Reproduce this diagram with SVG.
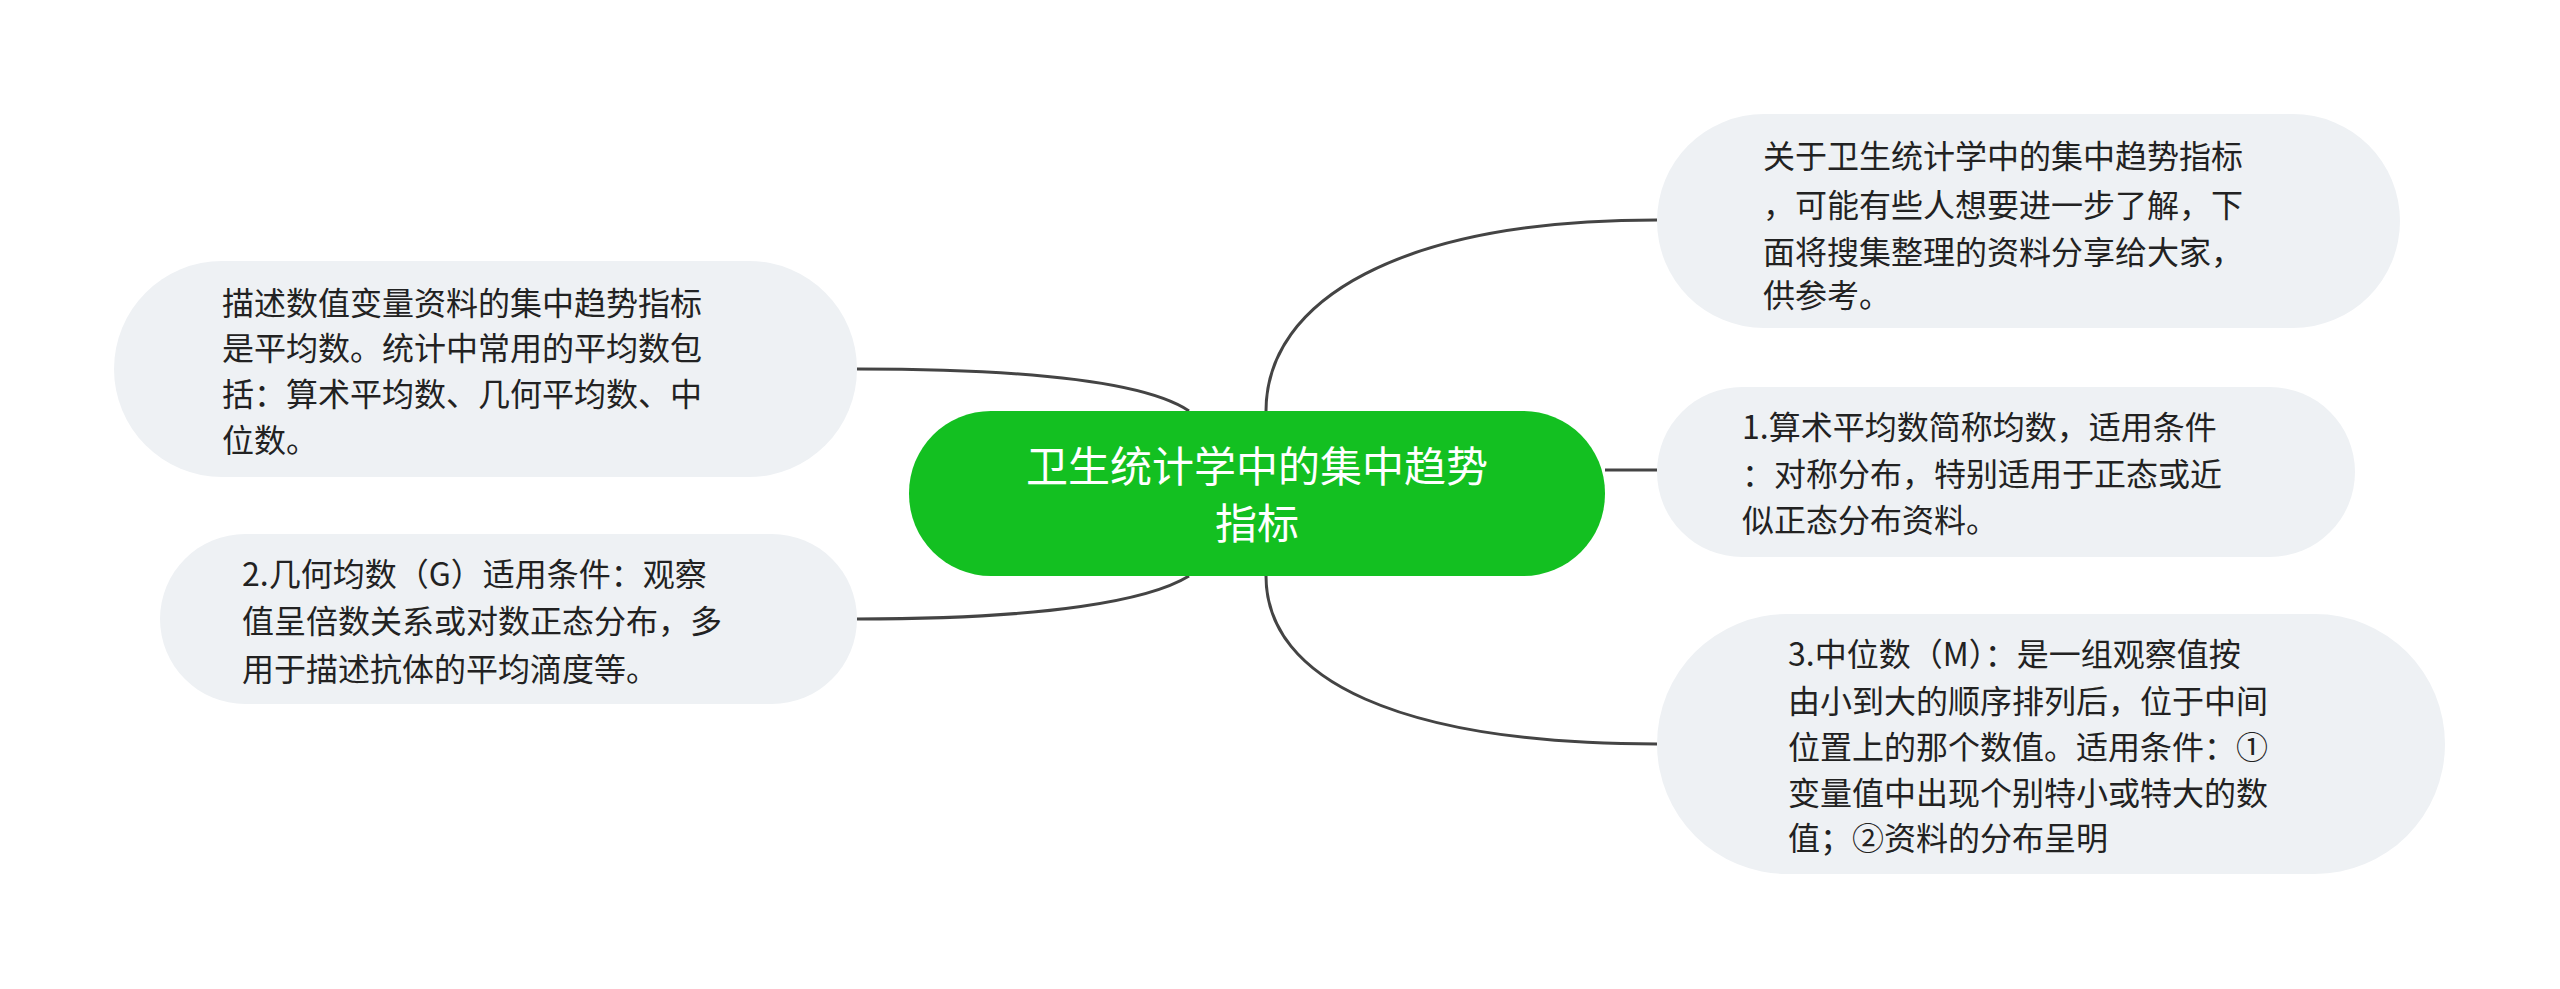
<svg xmlns="http://www.w3.org/2000/svg" width="2560" height="989" viewBox="0 0 2560 989">
<style>
.n{fill:#eef1f4}
.t{font-family:"Noto Sans CJK SC","Noto Sans",sans-serif;font-size:32px;fill:#222}
.c{font-family:"Noto Sans CJK SC","Noto Sans",sans-serif;font-size:42px;fill:#fff}
.l{fill:none;stroke:#444;stroke-width:3}
</style>
<rect width="2560" height="989" fill="#fff"/>
<g id="connectors">
<path class="l" d="M1266 411 C1266 300 1400 220 1657 220"/>
<path class="l" d="M1605 470 L1657 470"/>
<path class="l" d="M1266 576 C1266 680 1400 744 1657 744"/>
<path class="l" d="M857 369 C1050 369 1150 385 1189 411"/>
<path class="l" d="M857 619 C1050 619 1150 600 1189 576"/>
</g>
<g id="center">
<rect x="909" y="411" width="696" height="165" rx="82" fill="#13c021"/>
<text class="c" x="1257" y="482" text-anchor="middle">卫生统计学中的集中趋势</text>
<text class="c" x="1257" y="539" text-anchor="middle">指标</text>
</g>
<g id="r1">
<rect class="n" x="1657" y="114" width="743" height="214" rx="107"/>
<text class="t"><tspan x="1763" y="168">关于卫生统计学中的集中趋势指标</tspan><tspan x="1763" y="217">，可能有些人想要进一步了解，下</tspan><tspan x="1763" y="264">面将搜集整理的资料分享给大家，</tspan><tspan x="1763" y="307">供参考。</tspan></text>
</g>
<g id="r2">
<rect class="n" x="1657" y="387" width="698" height="170" rx="85"/>
<text class="t"><tspan x="1742" y="439">1.算术平均数简称均数，适用条件</tspan><tspan x="1742" y="486">：对称分布，特别适用于正态或近</tspan><tspan x="1742" y="532">似正态分布资料。</tspan></text>
</g>
<g id="r3">
<rect class="n" x="1657" y="614" width="788" height="260" rx="130"/>
<text class="t"><tspan x="1788" y="666">3.中位数（M）：是一组观察值按</tspan><tspan x="1788" y="713">由小到大的顺序排列后，位于中间</tspan><tspan x="1788" y="759">位置上的那个数值。适用条件：①</tspan><tspan x="1788" y="805">变量值中出现个别特小或特大的数</tspan><tspan x="1788" y="850">值；②资料的分布呈明</tspan></text>
</g>
<g id="l1">
<rect class="n" x="114" y="261" width="743" height="216" rx="108"/>
<text class="t"><tspan x="222" y="315">描述数值变量资料的集中趋势指标</tspan><tspan x="222" y="360">是平均数。统计中常用的平均数包</tspan><tspan x="222" y="406">括：算术平均数、几何平均数、中</tspan><tspan x="222" y="452">位数。</tspan></text>
</g>
<g id="l2">
<rect class="n" x="160" y="534" width="697" height="170" rx="85"/>
<text class="t"><tspan x="242" y="586">2.几何均数（G）适用条件：观察</tspan><tspan x="242" y="633">值呈倍数关系或对数正态分布，多</tspan><tspan x="242" y="681">用于描述抗体的平均滴度等。</tspan></text>
</g>
</svg>
